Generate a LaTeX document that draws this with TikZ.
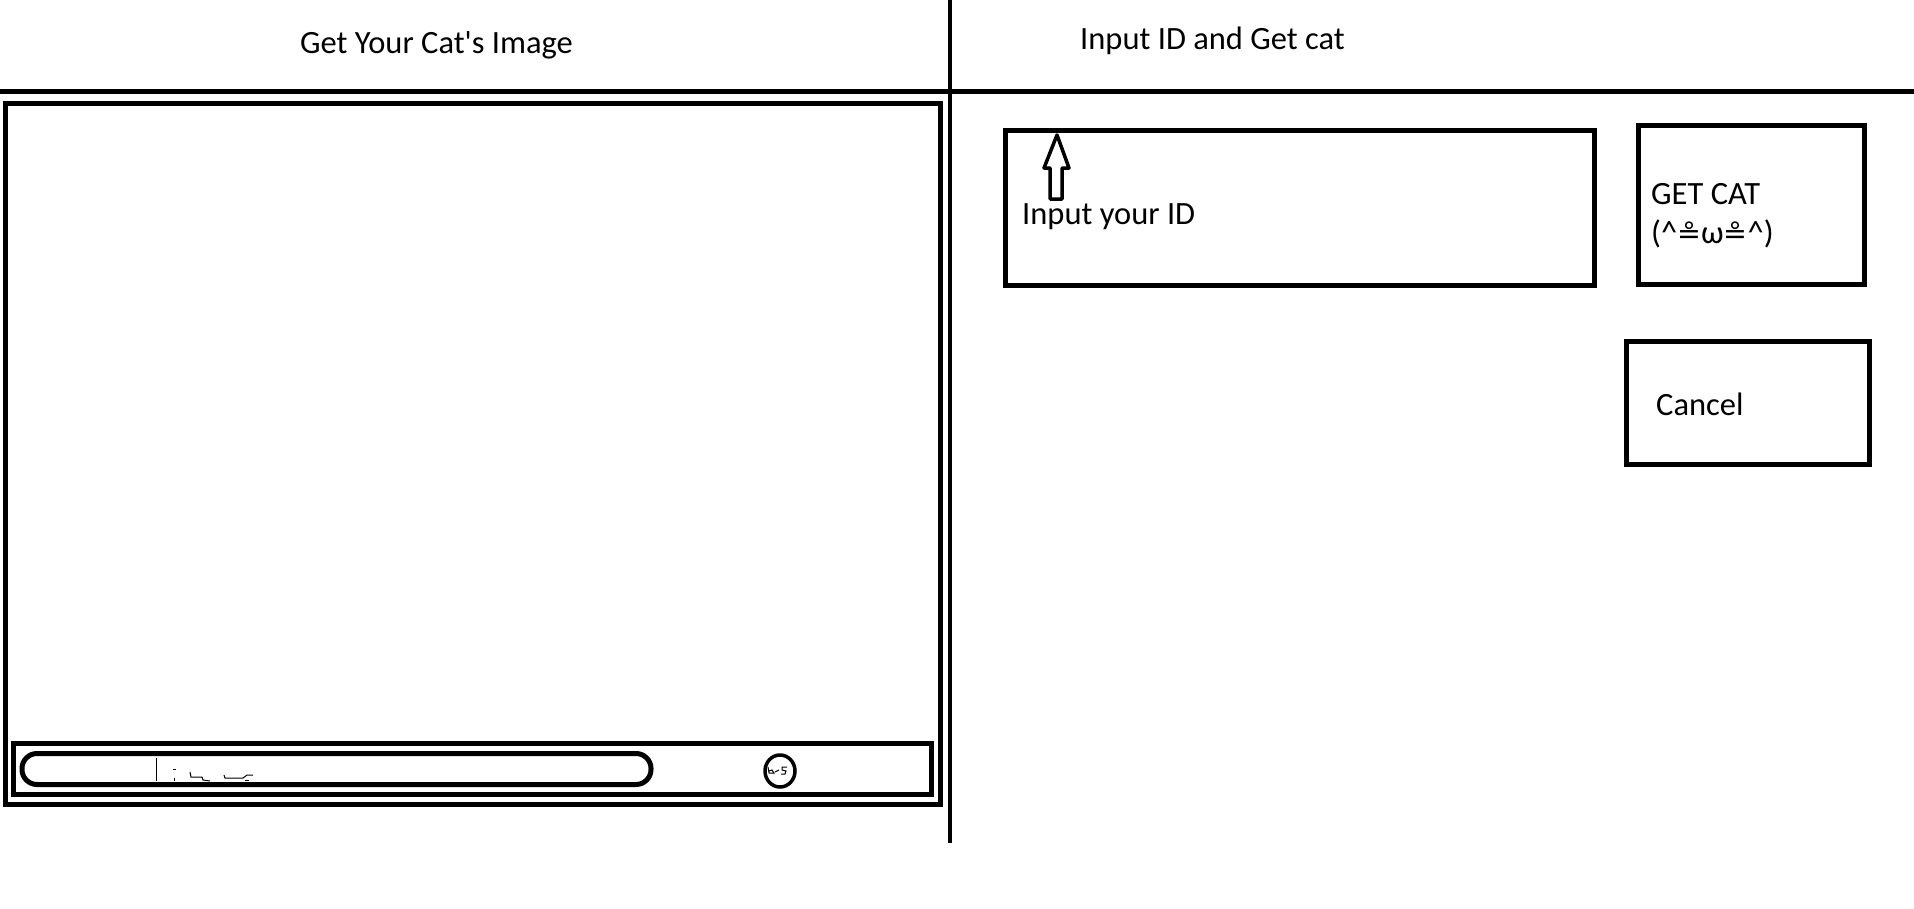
\documentclass[tikz,border=0pt]{standalone}
\usepackage{fontspec}
\usetikzlibrary{shapes.geometric}
\newfontfamily\ui{Carlito}
\newfontfamily\dv{DejaVu Sans}
\begin{document}
\begin{tikzpicture}[x=1pt,y=-1pt,
  frame/.style={draw=black,line width=5pt,inner sep=0pt,outer sep=0pt,anchor=north west},
  rule/.style={draw=black,line width=5pt},
  label/.style={inner sep=0pt,anchor=base west,font=\ui\fontsize{32.5}{38}\selectfont},
  scrib/.style={draw=black,line width=1pt}]
\useasboundingbox[fill=white] (0,0) rectangle (1914,908);
% dividers
\coordinate (hl) at (0,91);
\coordinate (hr) at (1914,91);
\coordinate (vt) at (950,0);
\coordinate (vb) at (950,843);
\draw[rule] (hl) -- (hr);
\draw[draw=black,line width=3.5pt] (vt) -- (vb);
% titles
\node[label] (t1) at (300,53) {Get Your Cat\textquotesingle s Image};
\node[label] (t2) at (1080,49) {Input ID and Get cat};
% left panel
\node[frame,minimum width=935pt,minimum height=701pt] (outer) at (5,103) {};
\node[frame,minimum width=918pt,minimum height=51pt] (bar) at (13,743) {};
\node[frame,rounded corners=15pt,minimum width=629pt,minimum height=31pt] (cap) at (22,753.5) {};
\node[draw=black,line width=3.5pt,ellipse,inner sep=0pt,outer sep=0pt,minimum width=30pt,minimum height=32pt] (knob) at (780,771) {};
% scribbles inside the capsule
\draw[scrib] (156,758) -- (156,781);
\draw[scrib] (173,769) -- (176,769);
\draw[scrib] (174,778) -- (174,781);
\draw[scrib] (190,772) -- (191,777) -- (202,777) -- (203,780) -- (210,781);
\draw[scrib] (224,775) -- (225,778) -- (243,778);
\draw[scrib] (243,778) -- (247,775) -- (253,775);
\draw[scrib] (245,780) -- (249,780);
% scribble inside the knob
\draw[scrib] (768,767) -- (769,773) -- (774,773) -- (772,770) -- (769,771);
\draw[scrib] (775,772) -- (779,770);
\draw[scrib] (787,767) -- (782,767) -- (782,770) -- (786,771) -- (785,774) -- (781,774);
% right panel
\node[frame,minimum width=589pt,minimum height=154.5pt] (idbox) at (1005,130.5) {};
\draw[draw=black,line width=3.5pt,line join=round]
  (1057,135) -- (1069,168) -- (1062,168) -- (1062,199) -- (1050,199) -- (1050,168) -- (1044,168) -- cycle;
\node[label] (idtext) at (1022,224) {Input your ID};
\node[frame,minimum width=226pt,minimum height=159pt] (getbox) at (1638,125.5) {};
\node[label] (g1) at (1651,204) {GET CAT};
\node[label] (g2) at (1651,243) {(\textasciicircum{\dv\fontsize{28.5}{30}\selectfont ≗}ω{\dv\fontsize{28.5}{30}\selectfont ≗}\textasciicircum)};
\node[frame,minimum width=243pt,minimum height=123.5pt] (cancelbox) at (1626,341) {};
\node[label] (c1) at (1656,415) {Cancel};
\end{tikzpicture}
\end{document}
